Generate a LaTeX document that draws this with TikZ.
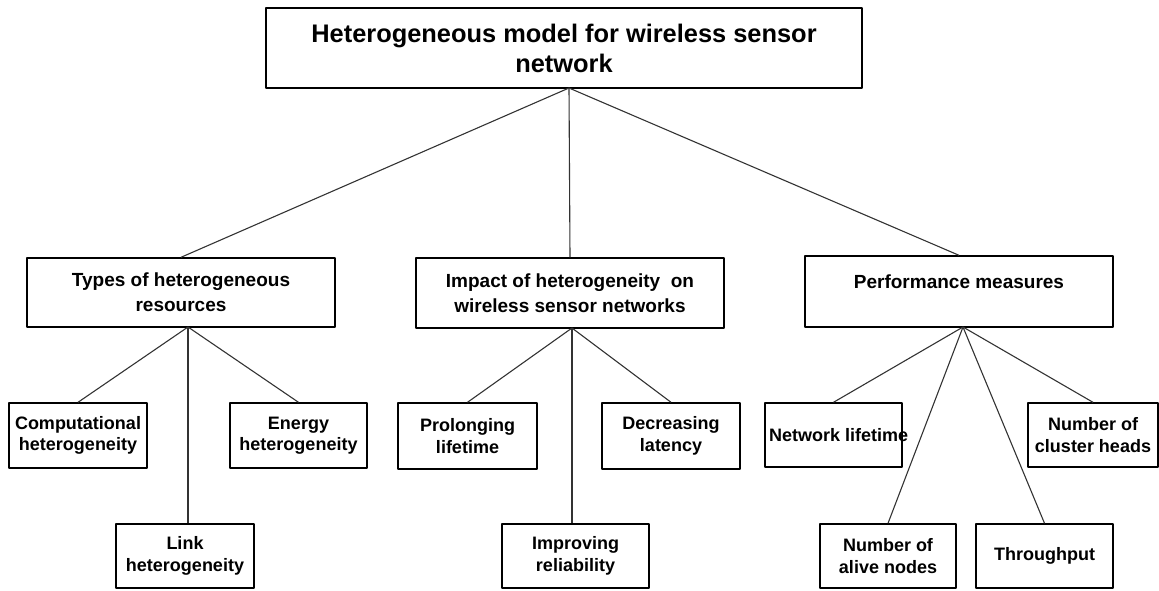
\documentclass[tikz,border=0pt]{standalone}
\usepackage{fontspec}
\setmainfont{Liberation Sans}
\begin{document}
\begin{tikzpicture}[x=1pt,y=-1pt,line join=round,
	hbox/.style={draw,line width=1.4pt,inner sep=0pt,align=center,font=\bfseries\fontsize{25.4}{30}\selectfont},
	mbox/.style={draw,line width=1.4pt,inner sep=0pt,align=center,minimum width=308,font=\bfseries\fontsize{19}{25}\selectfont},
	lbox/.style={draw,line width=1.4pt,inner sep=0pt,align=center,minimum height=64,font=\bfseries\fontsize{18}{21.5}\selectfont},
	conn/.style={line width=1.1pt,black!80}]
	\useasboundingbox (0,0) rectangle (1159,590);
	% top
	\node[hbox,minimum width=596,minimum height=80] (model) at (564,48) {Heterogeneous model for wireless sensor\\network};
	% second row
	\node[mbox,minimum height=69] (types) at (181,292.5) {Types of heterogeneous\\resources};
	\node[mbox,minimum height=70] (impact) at (570,293) {Impact of heterogeneity\ \ on\\wireless sensor networks};
	\node[mbox,minimum height=71] (perf) at (959,291.5) {\rule{0pt}{18pt}Performance measures\\\mbox{}};
	% types of resources
	\node[lbox,minimum width=138,minimum height=65] (comp) at (78,435.5) {Computational\\heterogeneity};
	\node[lbox,minimum width=137,minimum height=65] (energy) at (298.5,435.5) {Energy\\heterogeneity};
	\node[lbox,minimum width=138] (link) at (185,556) {Link\\heterogeneity};
	% impact
	\node[lbox,minimum width=139,minimum height=66] (prolong) at (467.5,436) {Prolonging\\lifetime};
	\node[lbox,minimum width=138,minimum height=66] (latency) at (671,436) {Decreasing\\latency};
	\node[lbox,minimum width=147] (reliab) at (575.5,556) {Improving\\reliability};
	% performance
	\node[lbox,minimum width=137] (life) at (833.5,435) {\makebox[129pt][l]{Network lifetime}};
	\node[lbox,minimum width=130] (heads) at (1093,435) {Number of\\cluster heads};
	\node[lbox,minimum width=136] (alive) at (888,556) {Number of\\alive nodes};
	\node[lbox,minimum width=137] (thru) at (1044.5,556) {Throughput};
	% hubs
	\coordinate (mhub) at (569,88);
	\coordinate (thub) at (188,327);
	\coordinate (ihub) at (572,328);
	\coordinate (phub) at (963,327);
	% connectors
	\foreach \a in {types,impact,perf}
		\draw[conn] (mhub) -- (\a.north);
	\draw[conn] (thub) -- (comp.north);
	\draw[conn] (thub) -- (energy.north);
	\draw[conn] (thub) -- (thub |- link.north);
	\draw[conn] (ihub) -- (prolong.north);
	\draw[conn] (ihub) -- (latency.north);
	\draw[conn] (ihub) -- (ihub |- reliab.north);
	\foreach \a in {life,heads,alive,thru}
		\draw[conn] (phub) -- (\a.north);
\end{tikzpicture}
\end{document}
